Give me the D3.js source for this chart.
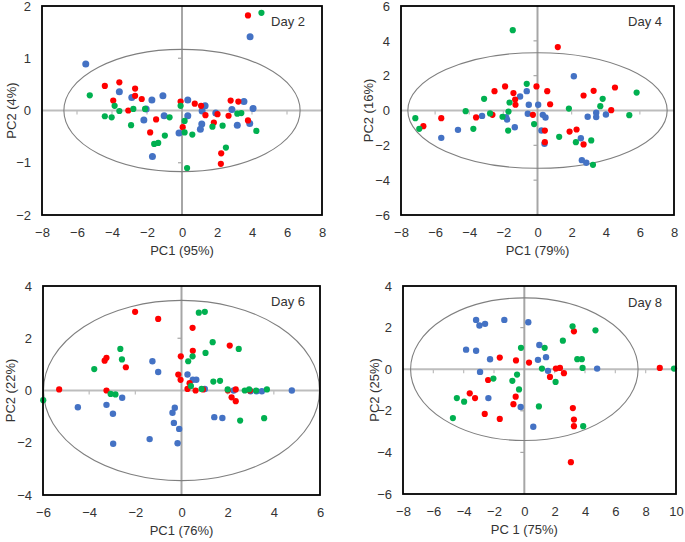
<!DOCTYPE html>
<html>
<head>
<meta charset="utf-8">
<script src="https://cdn.jsdelivr.net/npm/d3@7/dist/d3.min.js"></script>
<style>
html,body{margin:0;padding:0;background:#fff;}
svg{display:block;}
text{font-family:"Liberation Sans",Arial,sans-serif;fill:#333;}
</style>
</head>
<body>
<svg id="chart" width="685" height="542"></svg>
<script>
// ---- DATA ----
const dayLabels = ["Day 2", "Day 4", "Day 6", "Day 8"];
const xTitles = ["PC1 (95%)", "PC1 (79%)", "PC1 (76%)", "PC 1 (75%)"];
const yTitles = ["PC2 (4%)", "PC2 (16%)", "PC2 (22%)", "PC2 (25%)"];

const xTicks2 = [-8, -6, -4, -2, 0, 2, 4, 6, 8];
const yTicks2 = [-2, -1, 0, 1, 2];
const xTicks4 = [-8, -6, -4, -2, 0, 2, 4, 6, 8];
const yTicks4 = [-6, -4, -2, 0, 2, 4, 6];
const xTicks6 = [-6, -4, -2, 0, 2, 4, 6];
const yTicks6 = [-4, -2, 0, 2, 4];
const xTicks8 = [-8, -6, -4, -2, 0, 2, 4, 6, 8, 10];
const yTicks8 = [-6, -4, -2, 0, 2, 4];

// confidence ellipse semi-axes [rx, ry] per day
const ellipseAxes = [[6.75, 1.17], [7.6, 3.32], [5.98, 3.45], [7.5, 3.43]];

const day2Red = [[3.77,1.82],[-4.41,0.47],[-3.58,0.54],[-2.68,0.42],[-3.93,0.19],[-2.68,0.28],[-2.30,0.22],[-3.07,0.0],[-1.48,-0.17],[-1.82,-0.42],[-0.08,0.17],[0.04,-0.32],[0.73,0.13],[1.09,0.09],[1.34,-0.09],[1.82,-0.23],[2.03,-0.07],[2.66,-0.10],[2.78,0.19],[3.22,0.17],[3.77,-0.19],[2.24,-0.82],[2.22,-1.02]];
const day2Blue = [[3.89,1.41],[-5.50,0.89],[-3.58,0.36],[-2.87,0.25],[-1.72,0.20],[-1.09,0.28],[-2.05,0.03],[-2.18,-0.18],[-1.02,-0.10],[-1.69,-0.88],[-0.17,-0.43],[0.33,0.20],[0.33,-0.10],[1.32,0.09],[1.15,-0.01],[1.13,-0.26],[1.05,-0.36],[1.93,-0.05],[2.85,0.02],[3.54,0.17],[4.06,0.04],[3.16,-0.28],[3.87,-0.25]];
const day2Green = [[4.54,1.87],[-5.27,0.29],[-3.85,0.09],[-4.41,-0.11],[-4.02,-0.13],[-3.58,-0.01],[-2.78,0.03],[-2.11,0.03],[-2.91,-0.28],[-0.71,-0.13],[-0.98,-0.48],[-1.59,-0.64],[-1.36,-0.62],[-0.08,0.09],[0.15,-0.20],[0.15,-0.42],[0.59,-0.46],[0.29,-1.10],[1.74,-0.31],[2.32,-0.29],[2.51,-0.71],[3.16,-0.06],[3.39,-0.05],[4.25,-0.39]];

const day4Red = [[1.19,3.64],[-2.52,1.11],[-1.90,1.38],[-1.41,1.00],[-1.31,0.63],[-1.29,0.33],[-0.06,1.38],[0.57,1.11],[0.74,0.36],[-0.27,-0.25],[-2.64,-0.25],[-3.60,-0.40],[-5.64,-0.44],[-6.69,-0.90],[0.43,-1.15],[0.43,-1.82],[1.88,-1.21],[2.29,-1.09],[2.70,0.86],[3.29,1.13],[4.54,1.32],[4.32,0.02],[2.70,-1.95]];
const day4Blue = [[2.13,1.97],[-1.02,0.80],[-0.63,1.11],[-0.51,0.33],[0.04,0.33],[-0.57,-0.19],[0.31,-0.25],[0.47,-0.40],[-1.78,-0.52],[-1.84,-0.38],[-3.25,-0.31],[-1.33,-0.96],[-4.66,-1.11],[-5.64,-1.57],[0.23,-1.15],[0.41,-1.91],[2.54,-1.59],[2.94,-0.36],[3.44,-0.13],[3.44,-0.38],[4.01,-0.23],[2.60,-2.85],[2.86,-3.00]];
const day4Green = [[-1.45,4.61],[-0.63,1.53],[-3.13,0.67],[-1.64,0.46],[-1.70,-0.06],[-2.05,-0.36],[-2.78,-0.17],[-4.21,-0.04],[-7.16,-0.44],[-6.93,-1.05],[-3.76,-1.05],[-1.72,-1.15],[-0.20,-0.78],[1.27,-1.51],[1.84,0.11],[2.25,-1.82],[3.15,-1.72],[3.25,-3.12],[3.68,0.25],[3.82,0.67],[5.38,-0.27],[5.81,1.03]];

const day6Red = [[-2.01,3.01],[-1.01,2.74],[0.48,2.40],[0.49,1.52],[-0.03,1.31],[-3.25,1.25],[-3.33,1.14],[-2.41,0.89],[-0.14,0.61],[-0.04,0.41],[0.35,0.28],[0.26,0.06],[0.61,0.0],[0.93,0.04],[-5.30,0.04],[-3.25,0.0],[2.09,1.72],[2.01,0.0],[2.35,0.04],[2.17,-0.26],[2.35,-0.41],[2.96,0.0]];
const day6Blue = [[-1.26,1.12],[-1.01,0.71],[0.26,0.61],[0.49,0.41],[0.64,0.41],[1.01,0.06],[-2.57,-0.28],[-4.49,-0.64],[-3.25,-0.55],[-2.97,-0.89],[-0.29,-0.66],[-0.39,-0.85],[-0.33,-1.24],[-0.10,-1.47],[-0.17,-2.02],[-1.38,-1.86],[-2.96,-2.04],[1.42,-1.02],[1.77,-1.05],[2.26,0.0],[2.99,-0.03],[3.25,-0.03],[3.48,-0.03],[4.78,0.0]];
const day6Green = [[0.75,2.98],[1.01,3.01],[1.35,1.85],[1.04,1.44],[2.48,1.59],[0.48,1.31],[0.29,1.12],[-2.65,1.59],[-2.58,1.19],[-3.78,0.82],[1.38,0.34],[1.67,0.37],[0.41,0.17],[0.87,0.06],[2.00,0.04],[2.74,0.0],[2.93,0.04],[3.23,0.0],[3.70,0.04],[-3.07,-0.13],[-2.86,-0.15],[-5.99,-0.37],[2.54,-1.15],[3.58,-1.06]];

const day8Red = [[3.27,1.82],[-1.62,0.56],[-0.55,0.42],[0.31,0.32],[2.08,0.03],[2.35,0.06],[1.69,-0.37],[2.61,-0.19],[-2.39,-0.52],[-3.60,-1.16],[-3.25,-1.39],[-0.57,-1.32],[-0.72,-1.68],[-2.61,-2.15],[-1.62,-2.39],[3.20,-1.87],[3.27,-2.42],[3.27,-2.74],[3.07,-4.47],[8.93,0.06]];
const day8Blue = [[-3.18,2.37],[-2.96,2.10],[-2.59,2.18],[-1.32,2.37],[0.26,2.26],[-3.84,0.94],[-3.18,0.89],[-2.26,0.48],[-2.92,-0.13],[-2.37,-1.39],[-0.24,-1.82],[0.59,-2.77],[0.99,1.16],[0.90,0.45],[1.43,0.58],[1.56,-0.08],[4.80,0.03]];
const day8Green = [[3.18,2.06],[4.69,1.87],[2.54,1.37],[-0.22,1.03],[1.34,1.03],[3.49,0.48],[3.79,0.48],[1.16,0.03],[3.84,0.06],[-0.48,-0.26],[-0.79,-0.56],[-2.04,-0.45],[2.06,-0.61],[-0.35,-0.97],[-4.45,-1.39],[-3.97,-1.56],[-4.71,-2.35],[0.96,-1.79],[3.88,-2.74],[9.87,0.03]];

// ---- LAYOUT ----
const panels = [
  {box:[42, 6, 322, 215], xt:xTicks2, yt:yTicks2, yTitleX:16, labelPos:[305, 26], series:[day2Blue, day2Red, day2Green], blueR:3.5},
  {box:[401, 6, 674, 215], xt:xTicks4, yt:yTicks4, yTitleX:373, labelPos:[662, 26], series:[day4Blue, day4Red, day4Green], blueR:3.2},
  {box:[43, 286, 320, 495], xt:xTicks6, yt:yTicks6, yTitleX:15, labelPos:[305, 306], series:[day6Blue, day6Red, day6Green], blueR:3.2},
  {box:[403, 286, 676, 494], xt:xTicks8, yt:yTicks8, yTitleX:379, labelPos:[662, 307], series:[day8Blue, day8Red, day8Green], blueR:3.2}
];
const colors = ["#4472c4", "#ff0000", "#00b050"];

const svg = d3.select("#chart");

panels.forEach((p, i) => {
  const [x0, y0, x1, y1] = p.box;
  const xs = d3.scaleLinear().domain(d3.extent(p.xt)).range([x0, x1]);
  const ys = d3.scaleLinear().domain(d3.extent(p.yt)).range([y1, y0]);
  const g = svg.append("g");

  // zero lines
  g.append("line").attr("x1", x0).attr("x2", x1).attr("y1", ys(0)).attr("y2", ys(0))
    .attr("stroke", "#bdbdbd").attr("stroke-width", 2);
  g.append("line").attr("x1", xs(0)).attr("x2", xs(0)).attr("y1", y0).attr("y2", y1)
    .attr("stroke", "#a6a6a6").attr("stroke-width", 2);
  // ticks on zero lines
  const xMinor = d3.range(p.xt[0], p.xt[p.xt.length-1] + 0.001, p.xt[1]-p.xt[0]).filter(v => v !== 0 && v !== p.xt[0] && v !== p.xt[p.xt.length-1]);
  g.selectAll(".xz").data(xMinor).enter().append("line")
    .attr("x1", d => xs(d)).attr("x2", d => xs(d)).attr("y1", ys(0)).attr("y2", ys(0) + 4)
    .attr("stroke", "#bdbdbd").attr("stroke-width", 1.2);
  const yStep = p.yt[1] - p.yt[0];
  const yMinor = d3.range(p.yt[0], p.yt[p.yt.length-1] + 0.001, yStep).filter(v => v !== 0 && v !== p.yt[0] && v !== p.yt[p.yt.length-1]);
  g.selectAll(".yz").data(yMinor).enter().append("line")
    .attr("x1", xs(0) - 4).attr("x2", xs(0)).attr("y1", d => ys(d)).attr("y2", d => ys(d))
    .attr("stroke", "#a6a6a6").attr("stroke-width", 1.2);

  // ellipse
  const [rx, ry] = ellipseAxes[i];
  g.append("ellipse").attr("cx", xs(0)).attr("cy", ys(0))
    .attr("rx", xs(rx) - xs(0)).attr("ry", ys(0) - ys(ry))
    .attr("fill", "none").attr("stroke", "#7f7f7f").attr("stroke-width", 1.1);

  // points
  p.series.forEach((s, k) => {
    g.selectAll(".pt" + k).data(s).enter().append("circle")
      .attr("cx", d => xs(d[0])).attr("cy", d => ys(d[1]))
      .attr("r", k === 0 ? p.blueR : 3.1)
      .attr("fill", colors[k]);
  });

  // box
  g.append("rect").attr("x", x0).attr("y", y0).attr("width", x1 - x0).attr("height", y1 - y0)
    .attr("fill", "none").attr("stroke", "#000").attr("stroke-width", 1.8);

  // axes labels
  const xa = g.append("g").attr("transform", `translate(0,${y1})`)
    .call(d3.axisBottom(xs).tickValues(p.xt).tickSize(0).tickPadding(13).tickFormat(d3.format("d")));
  xa.select(".domain").remove();
  xa.selectAll("text").attr("font-size", 13).attr("fill", "#333").style("font-family", '"Liberation Sans",Arial,sans-serif');
  const ya = g.append("g").attr("transform", `translate(${x0},0)`)
    .call(d3.axisLeft(ys).tickValues(p.yt).tickSize(0).tickPadding(11).tickFormat(d3.format("d")));
  ya.select(".domain").remove();
  ya.selectAll("text").attr("font-size", 13).attr("fill", "#333").style("font-family", '"Liberation Sans",Arial,sans-serif');

  // titles
  g.append("text").attr("x", xs(0)).attr("y", y1 + 40).attr("text-anchor", "middle")
    .attr("font-size", 13).text(xTitles[i]);
  g.append("text").attr("transform", `translate(${p.yTitleX},${(y0 + y1) / 2}) rotate(-90)`)
    .attr("text-anchor", "middle").attr("font-size", 13).text(yTitles[i]);
  g.append("text").attr("x", p.labelPos[0]).attr("y", p.labelPos[1]).attr("text-anchor", "end")
    .attr("font-size", 13).attr("fill", "#111").text(dayLabels[i]);
});
</script>
</body>
</html>
